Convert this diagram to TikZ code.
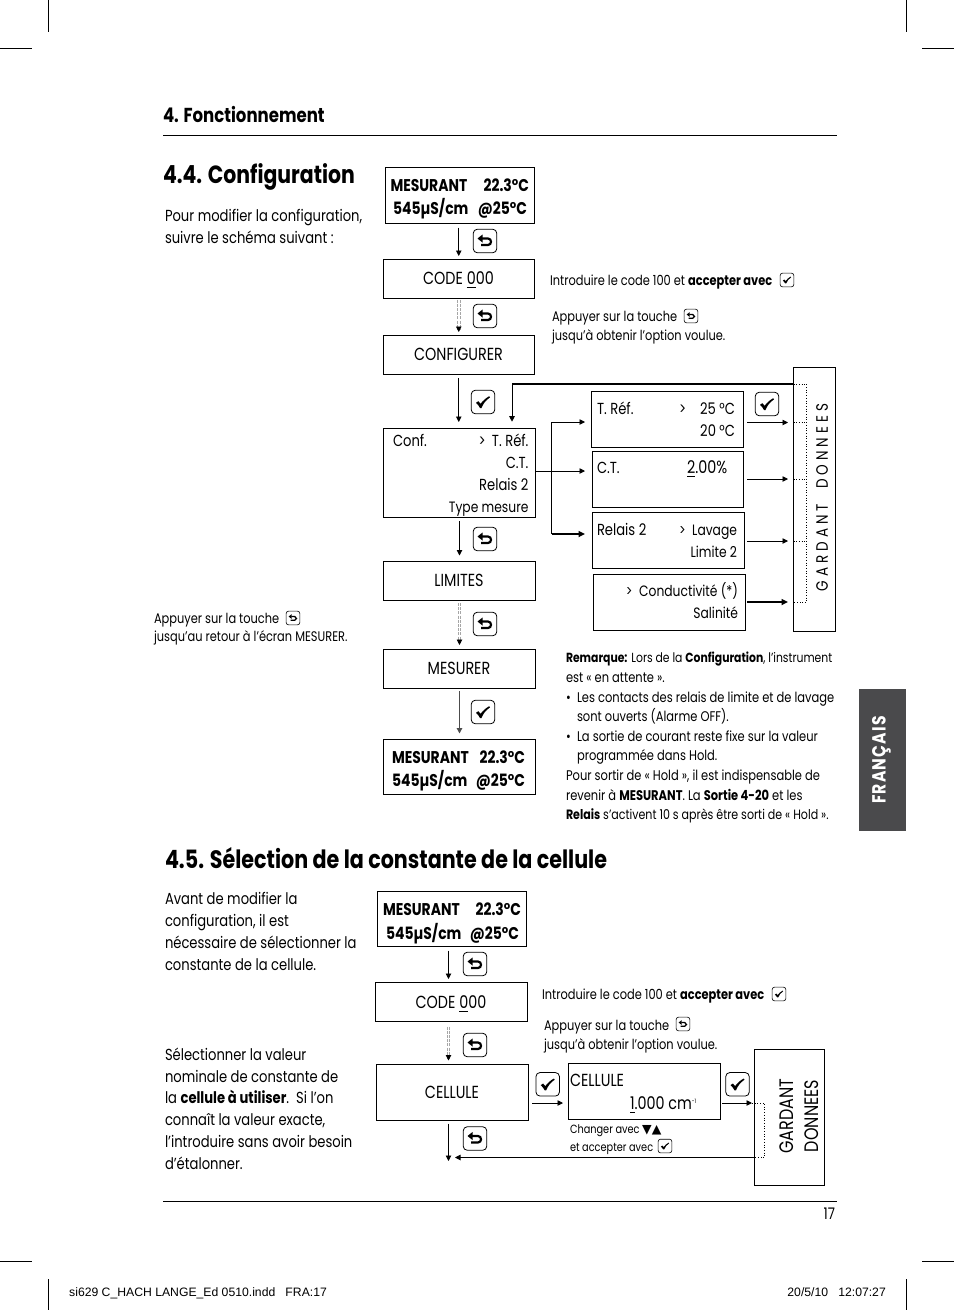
\documentclass[tikz,border=0pt]{standalone}
\usepackage{fontspec}
\usetikzlibrary{arrows.meta,calc}
\setmainfont[FakeStretch=0.82]{Poppins}
\newfontfamily\dejavu{DejaVu Sans}
\newfontfamily\lib{Liberation Sans}
\definecolor{tabgrey}{HTML}{4A4A4C}
\newcommand\fsz[1]{\fontsize{#1}{#1}\selectfont}
\newcommand\ul[1]{\setbox0\hbox{#1}\rlap{\vrule width\wd0 height -2.6pt depth 4pt}\box0\relax}
\tikzset{
 x=1pt,y=-1pt,
 bx/.style={draw,line width=0.9pt,inner sep=0pt,fill=none},
 lab/.style={inner sep=0pt,outer sep=0pt,font=\fsz{16}},
 labn/.style={inner sep=0pt,outer sep=0pt,font=\fsz{15}},
 capl/.style={inner sep=0pt,outer sep=0pt,font=\fsz{17.5}},
 labb/.style={inner sep=0pt,outer sep=0pt,font=\fsz{17}\bfseries},
 sm/.style={inner sep=0pt,outer sep=0pt,font=\fsz{13.9}},
 rem/.style={inner sep=0pt,outer sep=0pt,font=\fsz{14}},
 tiny/.style={inner sep=0pt,outer sep=0pt,font=\fsz{11.9}},
 txt/.style={inner sep=0pt,outer sep=0pt,font=\fsz{16}},
 head/.style={inner sep=0pt,outer sep=0pt,font=\fsz{#1}\bfseries},
 arr/.style={-{Triangle[length=5.5pt,width=5.5pt]},line width=0.9pt},
 arrk/.style={-{Triangle[length=6.5pt,width=6pt]},line width=1.6pt},
 dbl/.style={gray!70,line width=0.7pt,dash pattern=on 3pt off 1.2pt},
 keybox/.style={draw,rounded corners=#1,inner sep=0pt},
 rulet/.style={line width=0.7pt},
 crop/.style={line width=0.7pt},
 dots/.style={line width=0.7pt,dotted}
}
\newcommand\bbox[5]{\path[bx,draw] (#2,#3) rectangle (#4,#5);
 \node[inner sep=0pt,outer sep=0pt,minimum width=#4-#2,minimum height=#5-#3] (#1) at ({(#2+#4)/2},{(#3+#5)/2}) {};}
\newcommand\tw[4][txt]{\node[#1,anchor=base west] at (#2,#3) {#4};}
\newcommand\te[4][lab]{\node[#1,anchor=base east] at (#2,#3) {#4};}
\newcommand\tc[4][capl]{\node[#1,anchor=base] at (#2,#3) {#4};}
\newcommand\retkey[4]{\node[keybox={#4*4pt},minimum size={#4*23.5pt},line width={#4>0.7?0.8pt:0.6pt}] (#1) at (#2,#3) {};
 \begin{scope}[shift={(#2,#3)},scale=#4]
 \draw[line width={#4*2.2pt}] (-3,-2.5) -- (3,-2.5) .. controls (7,-2.5) and (7,4) .. (3,4) -- (-4,4);
 \fill (-7.5,-2.5) -- (-2.5,-6.5) -- (-2.5,1.5) -- cycle;
 \end{scope}}
\newcommand\chkkey[4]{\node[keybox={#4*4pt},minimum size={#4*23.5pt},line width={#4>0.7?0.8pt:0.6pt}] (#1) at (#2,#3) {};
 \begin{scope}[shift={(#2,#3)},scale=#4]
 \fill (-7,0.8) -- (-4.6,-0.8) -- (-2.4,1.8) .. controls (0,-1.5) and (3,-4) .. (6.2,-5.8) -- (7,-4.6) .. controls (3,-2) and (0,1.8) .. (-1.5,6) -- (-3,6) .. controls (-4,4) and (-5.2,2.4) .. (-7,0.8) -- cycle;
 \end{scope}}
\begin{document}
\begin{tikzpicture}
\useasboundingbox (0,0) rectangle (954,1310);
\draw[crop] (48,0)--(48,32) (906,0)--(906,32) (0,48)--(32,48) (922,48)--(954,48);
\draw[crop] (48,1279)--(48,1310) (906,1279)--(906,1310) (0,1261)--(32,1261) (922,1261)--(954,1261);
\node[inner sep=0pt,anchor=base west,font=\lib\fsz{12.2}] (slug) at (69,1296) {si629 C\_HACH LANGE\_Ed 0510.indd\ \ \ FRA:17};
\node[inner sep=0pt,anchor=base east,font=\lib\fsz{12.2}] (date) at (886,1296) {20/5/10\ \ \ 12:07:27};
\node[head=20.2,anchor=base west] (h1) at (163,122) {4. Fonctionnement};
\draw[rulet] (163,135.5)--(837,135.5);
\draw[rulet] (163,1201)--(837,1201);
\node[lab,anchor=base east] (pg) at (835,1219) {17};
\node[head=24.9,anchor=base west] (h2) at (163,183) {4.4. Configuration};
\node[head=25.2,anchor=base west] (h3) at (165,868) {4.5. Sélection de la constante de la cellule};
\path[fill=tabgrey] (859,689) rectangle (906,831);
\node[rotate=90,text=white,font=\fsz{19}\bfseries\addfontfeature{LetterSpace=6}] (tab) at (881.5,760) {FRANÇAIS};
\tw{165}{221}{Pour modifier la configuration,}
\tw{165}{243}{suivre le schéma suivant :}
\tw[sm]{154}{623}{Appuyer sur la touche}
\retkey{kc}{293}{618}{0.58}
\tw[sm]{154}{641}{jusqu’au retour à l’écran MESURER.}
\bbox{mA}{385.5}{167.5}{534.5}{223}
\bbox{codeA}{383}{259}{534.5}{298}
\bbox{cfg}{383}{335}{534.5}{374}
\bbox{conf}{383.5}{428}{535}{517.5}
\bbox{lim}{383.5}{561.5}{535.5}{600}
\bbox{mes}{383.5}{649.5}{535.5}{688}
\bbox{mB}{383.5}{739.5}{535.5}{794.5}
\bbox{tref}{591.5}{391.5}{743.5}{447.5}
\bbox{ct}{592.5}{451}{743.5}{507.5}
\bbox{rel}{592.5}{512.5}{744}{568}
\bbox{cond}{593.5}{574.5}{745}{630}
\bbox{gdA}{793.5}{367.5}{835.5}{631.5}
\tw[labb]{390.5}{191.5}{MESURANT}\te[labb]{529}{191.5}{22.3°C}
\tw[labb]{393}{214}{545µS/cm}\te[labb]{527}{214}{@25°C}
\tc{458.5}{284}{CODE \ul{0}00}
\tc{458.5}{360}{CONFIGURER}
\tw[lab]{393}{446}{Conf.}
\te{528.5}{446}{>\ \,T. Réf.}\te{528.5}{468}{C.T.}\te{528.5}{490}{Relais 2}\te[labn]{528.5}{512}{Type mesure}
\tc{459}{586}{LIMITES}
\tc{459}{674}{MESURER}
\tw[labb]{392}{763}{MESURANT}\te[labb]{525}{763}{22.3°C}
\tw[labb]{392}{786}{545µS/cm}\te[labb]{525}{786}{@25°C}
\tw[lab]{597}{414}{T. Réf.}\te{735}{414}{>\ \ \ \ 25 °C}\te{735}{436}{20 °C}
\tw[lab]{597}{473}{C.T.}\tw[capl]{687}{473}{\ul{2}.00\%}
\tw[lab]{597}{535}{Relais 2}\te[labn]{737}{535}{>\ \ Lavage}\te[labn]{737}{557}{Limite 2}
\te[labn]{738}{596}{>\ \ Conductivité (*)}\te[labn]{738}{618}{Salinité}
\node[rotate=90,font=\fsz{16.5}\addfontfeature{LetterSpace=24},inner sep=0pt] (gdtA) at (822,497.5) {GARDANT\ \ DONNEES};
\coordinate (dA0) at (806.7,384);\coordinate (dA1) at (806.7,422.5);\coordinate (dA2) at (806.7,479);\coordinate (dA3) at (806.7,541);\coordinate (dA4) at (806.7,602);
\draw[dots] (793.5,384)--(dA0)--(dA4)--(793.5,602) (793.5,422.5)--(dA1) (793.5,479)--(dA2) (793.5,541)--(dA3);
\retkey{k1}{485}{241}{1}
\retkey{k2}{485}{316}{1}
\chkkey{k3}{483}{402}{1}
\retkey{k4}{485}{539}{1}
\retkey{k5}{485}{624}{1}
\chkkey{k6}{483}{712}{1}
\chkkey{k7}{767}{404}{1}
\tw[sm]{550}{285}{Introduire le code 100 et \textbf{accepter avec}}
\chkkey{ka}{787}{280}{0.58}
\tw[sm]{552}{321}{Appuyer sur la touche}
\retkey{kb}{691}{316}{0.58}
\tw[sm]{552}{340}{jusqu’à obtenir l’option voulue.}
\draw[arr] ([yshift=-4.5pt]mA.south -| codeA.north) -- ([yshift=3pt]codeA.north);
\draw[dbl] ([xshift=-1.5pt,yshift=-1.5pt]codeA.south) -- ([xshift=-1.5pt,yshift=6pt]cfg.north);
\draw[dbl] ([xshift=1.2pt,yshift=-1.5pt]codeA.south) -- ([xshift=1.2pt,yshift=6pt]cfg.north);
\draw[arr] ([yshift=6pt]cfg.north) -- ([yshift=3pt]cfg.north);
\draw[arr] ([yshift=-4pt]cfg.south) -- ([yshift=6pt]conf.north -| cfg);
\coordinate (tk) at (512,384);
\coordinate (tkb) at (512,421.7);
\draw[line width=2pt] (793.5,384) -- (tk);
\draw[arr] (tk) -- (tkb);
\coordinate (sp) at (551.5,471);
\draw[line width=0.9pt] (conf.east |- sp) -- (sp);
\draw[arr] (551.5,422) -- (585,422);
\draw[line width=1.4pt] (551.5,534) -- (551.5,422);
\draw[arr] (sp) -- (585,471);
\draw[arrk] (551.5,534) -- (585,534);
\draw[arr] ([yshift=-3.5pt]conf.south -| lim) -- ([yshift=6pt]lim.north);
\draw[dbl] ([xshift=-1.5pt,yshift=-3pt]lim.south) -- ([xshift=-1.5pt,yshift=7pt]mes.north);
\draw[dbl] ([xshift=1.2pt,yshift=-3pt]lim.south) -- ([xshift=1.2pt,yshift=7pt]mes.north);
\draw[arr] ([yshift=7pt]mes.north) -- ([yshift=4.5pt]mes.north);
\draw[arr,gray!60!black,line width=1.2pt] ([yshift=-3pt]mes.south) -- ([yshift=6pt]mB.north);
\draw[arr] (tref.east |- dA1) ++(3.5,0) -- (788,422.5);
\draw[arr] (ct.east |- dA2) ++(3.5,0) -- (788,479);
\draw[arr] (rel.east |- dA3) ++(3,0) -- (788,541);
\draw[arrk] (cond.east |- dA4) ++(2,0) -- (788,602);
\tw[rem]{566}{662}{\fsz{13.2}\textbf{Remarque:} Lors de la \textbf{Configuration}, l’instrument}
\tw[rem]{566}{682}{est « en attente ».}
\tw[rem]{566}{702}{•}\tw[rem]{577}{702}{Les contacts des relais de limite et de lavage}
\tw[rem]{577}{721}{sont ouverts (Alarme OFF).}
\tw[rem]{566}{741}{•}\tw[rem]{577}{741}{La sortie de courant reste fixe sur la valeur}
\tw[rem]{577}{760}{programmée dans Hold.}
\tw[rem]{566}{780}{Pour sortir de « Hold », il est indispensable de}
\tw[rem]{566}{800}{revenir à \textbf{MESURANT}. La \textbf{Sortie 4-20} et les}
\tw[rem]{566}{819}{\fsz{13.5}\textbf{Relais} s’activent 10 s après être sorti de « Hold ».}
\tw{165}{904}{Avant de modifier la}
\tw{165}{926}{configuration, il est}
\tw{165}{948}{nécessaire de sélectionner la}
\tw{165}{970}{constante de la cellule.}
\tw{165}{1060}{Sélectionner la valeur}
\tw{165}{1082}{nominale de constante de}
\tw{165}{1103}{la \textbf{cellule à utiliser}.\ \ Si l’on}
\tw{165}{1125}{connaît la valeur exacte,}
\tw{165}{1147}{l’introduire sans avoir besoin}
\tw{165}{1169}{d’étalonner.}
\bbox{mC}{377.5}{891.5}{526.5}{946.5}
\bbox{codeB}{375}{982.5}{527.5}{1021.5}
\bbox{cel}{376}{1064.5}{528.5}{1120.5}
\bbox{celv}{568}{1063.5}{720}{1119.5}
\bbox{gdB}{754.5}{1049.5}{824.5}{1185.5}
\tw[labb]{383}{915}{MESURANT}\te[labb]{521}{915}{22.3°C}
\tw[labb]{386}{939}{545µS/cm}\te[labb]{519}{939}{@25°C}
\tc{451}{1008}{CODE \ul{0}00}
\tc{452}{1098}{CELLULE}
\tw[capl]{570}{1086}{CELLULE}
\tw[capl]{630}{1109}{\ul{1}.000 cm\raisebox{6pt}{\fsz{6}-1}}
\node[rotate=90,font=\fsz{19.5},inner sep=0pt] (gdtB1) at (787,1116) {GARDANT};
\node[rotate=90,font=\fsz{19.5},inner sep=0pt] (gdtB2) at (811.5,1116) {DONNEES};
\coordinate (dB0) at (764.5,1103);\coordinate (dB1) at (764.5,1157.5);
\draw[dots] (752,1103)--(dB0)--(dB1)--(754.5,1157.5);
\tw[sm]{542}{999}{Introduire le code 100 et \textbf{accepter avec}}
\chkkey{kd}{779}{994}{0.58}
\tw[sm]{544}{1030}{Appuyer sur la touche}
\retkey{ke}{683}{1024}{0.58}
\tw[sm]{544}{1049}{jusqu’à obtenir l’option voulue.}
\node[tiny,anchor=base west] (chg) at (570,1133) {Changer avec {\dejavu\fsz{12.5}▼▲}};
\tw[tiny]{570}{1151}{et accepter avec}
\chkkey{kf}{665}{1146}{0.58}
\retkey{k8}{475}{964}{1}
\retkey{k9}{475}{1045}{1}
\chkkey{k10}{547.7}{1084.3}{1}
\chkkey{k11}{737.5}{1084.3}{1}
\retkey{k12}{475}{1138.5}{1}
\coordinate (down) at (448.5,1161);
\coordinate (ret) at (455,1157.5);
\draw[arr] ([yshift=-4pt]mC.south -| down) -- ([yshift=3.5pt]codeB.north -| down);
\draw[dbl] ([xshift=-1.5pt,yshift=-5pt]codeB.south -| down) -- ([xshift=-1.5pt,yshift=6pt]cel.north -| down);
\draw[dbl] ([xshift=1.2pt,yshift=-5pt]codeB.south -| down) -- ([xshift=1.2pt,yshift=6pt]cel.north -| down);
\draw[arr] ([yshift=6pt]cel.north -| down) -- ([yshift=4pt]cel.north -| down);
\draw[arr] ([yshift=-3pt]cel.south -| down) -- (down);
\draw[arr] ([xshift=3.5pt]cel.east |- dB0) -- ([xshift=-5pt]celv.west |- dB0);
\draw[arr] ([xshift=2pt]celv.east |- dB0) -- ([xshift=-2.5pt]gdB.west |- dB0);
\draw[arr] (gdB.west |- dB1) -- (ret);
\end{tikzpicture}
\end{document}
